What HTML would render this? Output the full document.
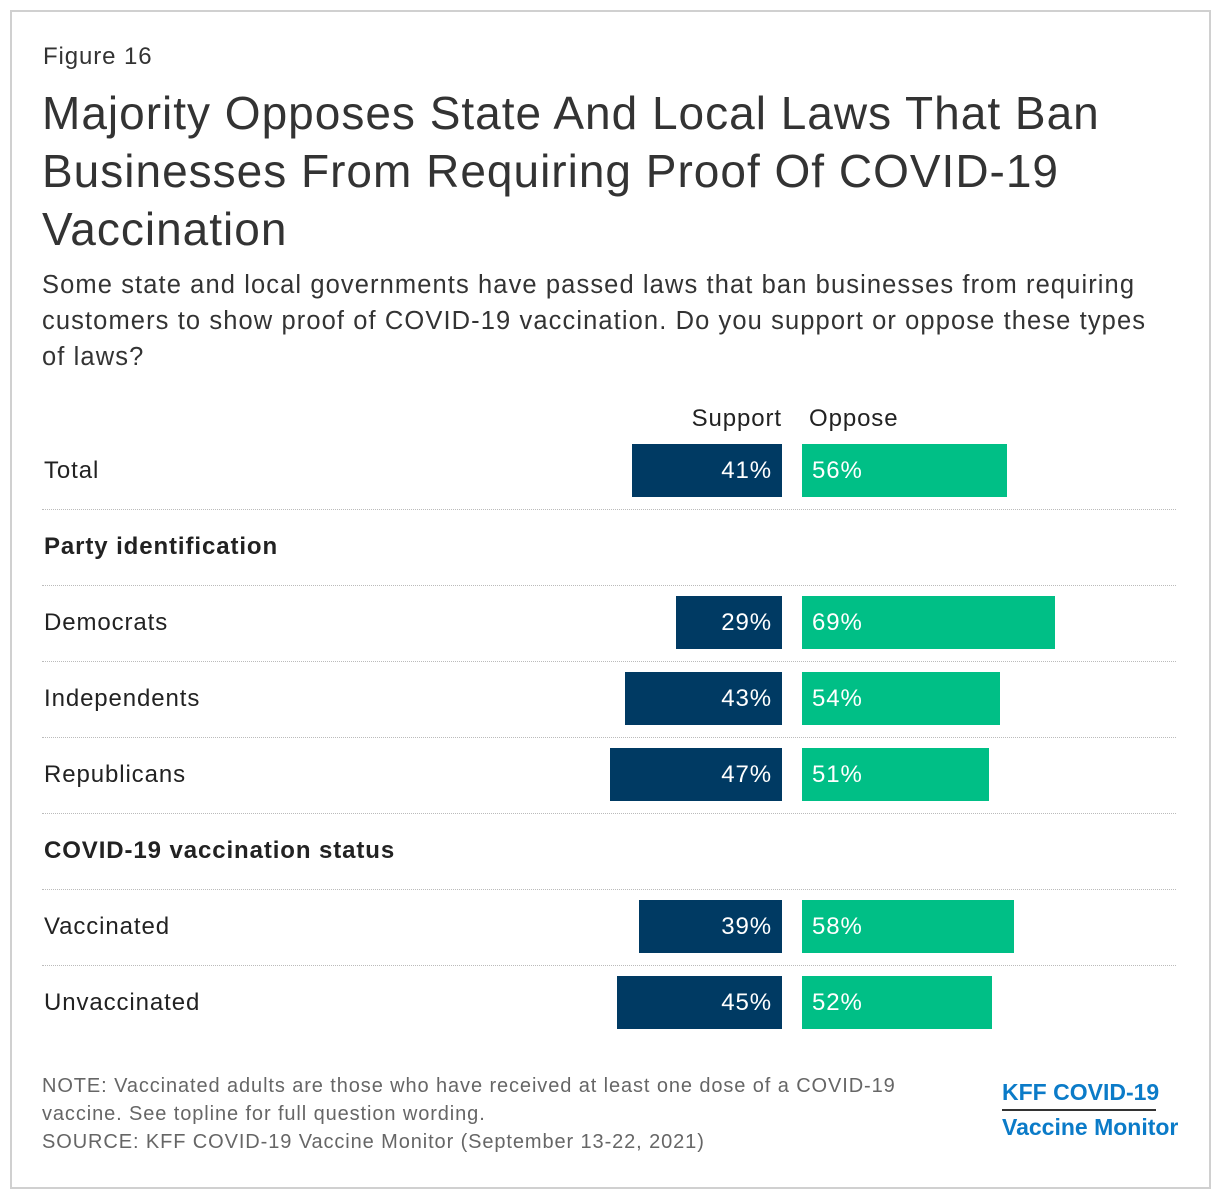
<!DOCTYPE html>
<html><head><meta charset="utf-8"><style>
body{margin:0;width:1220px;height:1198px;background:#fff;font-family:"Liberation Sans",sans-serif;color:#333;position:relative;overflow:hidden;letter-spacing:0.9px}
.frame{position:absolute;left:10px;top:10px;width:1197px;height:1175px;border:2px solid #d0d0d0}
.abs{position:absolute;white-space:nowrap}
.row-label{position:absolute;left:44px;font-size:24px;color:#222}
.hdr{position:absolute;left:44px;font-size:24px;font-weight:bold;color:#222}
.sep{position:absolute;left:42px;width:1134px;border-top:1px dotted #bbb;height:0}
.bar{position:absolute;height:53px}
.val{position:absolute;font-size:24px;color:#fff;line-height:53px}
</style></head><body>
<div class="frame"></div>
<div class="abs" style="left:43px;top:43px;font-size:24px;color:#333">Figure 16</div>
<div class="abs" style="left:42px;top:84px;font-size:46px;letter-spacing:1.0px;line-height:58px;color:#333;white-space:normal;width:1120px">Majority Opposes State And Local Laws That Ban Businesses From Requiring Proof Of COVID-19 Vaccination</div>
<div class="abs" style="left:42px;top:267px;font-size:25.5px;letter-spacing:1.1px;line-height:36px;color:#333;white-space:normal;width:1115px">Some state and local governments have passed laws that ban businesses from requiring customers to show proof of COVID-19 vaccination. Do you support or oppose these types of laws?</div>
<div class="abs" style="right:438px;top:405px;font-size:24px;color:#222">Support</div>
<div class="abs" style="left:809px;top:405px;font-size:24px;color:#222">Oppose</div>
<div id="chart"></div>
<div class="abs" style="left:42px;top:1072px;font-size:20px;line-height:28px;color:#666">NOTE: Vaccinated adults are those who have received at least one dose of a COVID-19<br>vaccine. See topline for full question wording.<br>SOURCE: KFF COVID-19 Vaccine Monitor (September 13-22, 2021)</div>
<div class="abs" style="left:1002px;top:1079px;font-size:23px;letter-spacing:0;font-weight:bold;color:#0b7bc8">KFF COVID-19</div>
<div class="abs" style="left:1002px;top:1109px;width:154px;height:2px;background:#333"></div>
<div class="abs" style="left:1002px;top:1114px;font-size:23px;letter-spacing:0;font-weight:bold;color:#0b7bc8">Vaccine Monitor</div>
<script>
const categories=["Total","Democrats","Independents","Republicans","Vaccinated","Unvaccinated"];
const supportValues=[41,29,43,47,39,45];
const opposeValues=[56,69,54,51,58,52];
const groupHeaders=["Party identification","COVID-19 vaccination status"];
const rowCenters=[471,623,699,775,927,1003];
const headerCenters=[547,851];
const sepYs=[509,585,661,737,813,889,965];
const scale=3.66, supportEnd=782, opposeStart=802;
const c=document.getElementById('chart');
function x(v){return v*scale;}
categories.forEach((cat,i)=>{
  const cy=rowCenters[i];
  const l=document.createElement('div');l.className='row-label';l.style.top=(cy-14)+'px';l.textContent=cat;
  
  
  c.appendChild(l);
  const s=document.createElement('div');s.className='bar';s.style.background='#003a63';
  s.style.left=(supportEnd-x(supportValues[i]))+'px';s.style.width=x(supportValues[i])+'px';s.style.top=(cy-27)+'px';
  
  
  c.appendChild(s);
  const sv=document.createElement('div');sv.className='val';sv.style.right=(1220-supportEnd+10)+'px';sv.style.top=(cy-27)+'px';sv.textContent=supportValues[i]+'%';
  
  
  c.appendChild(sv);
  const o=document.createElement('div');o.className='bar';o.style.background='#00bf86';
  o.style.left=opposeStart+'px';o.style.width=x(opposeValues[i])+'px';o.style.top=(cy-27)+'px';
  
  
  c.appendChild(o);
  const ov=document.createElement('div');ov.className='val';ov.style.left=(opposeStart+10)+'px';ov.style.top=(cy-27)+'px';ov.textContent=opposeValues[i]+'%';
  
  
  c.appendChild(ov);
});
groupHeaders.forEach((h,i)=>{
  const d=document.createElement('div');d.className='hdr';d.style.top=(headerCenters[i]-14)+'px';d.textContent=h;
  
  
  c.appendChild(d);
});
sepYs.forEach(y=>{
  const d=document.createElement('div');d.className='sep';d.style.top=y+'px';
  
  
  c.appendChild(d);
});
</script>
</body></html>
